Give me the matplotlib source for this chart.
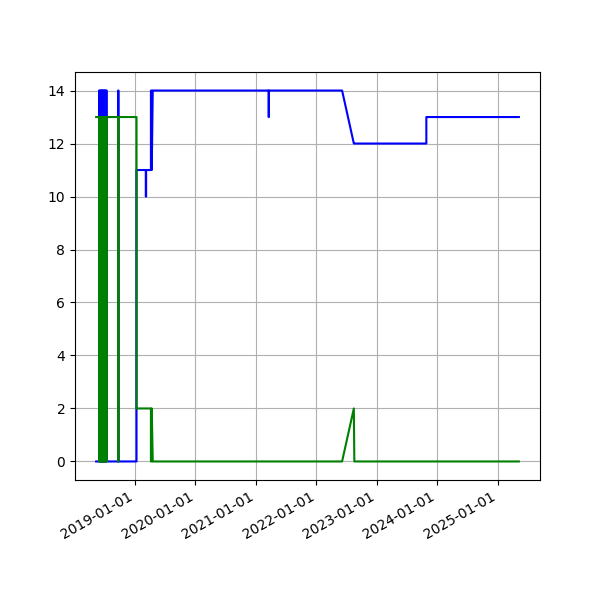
import matplotlib
matplotlib.use("Agg")
import matplotlib.pyplot as plt
import matplotlib.dates as mdates
import pandas as pd

# sample dates (repeated dates give vertical steps)
dates = [
    "2018-05-11", "2018-05-29",
    "2018-05-29", "2018-06-01", "2018-06-01", "2018-06-04", "2018-06-04", "2018-06-07",
    "2018-06-07", "2018-06-10", "2018-06-10", "2018-06-13", "2018-06-13", "2018-06-16",
    "2018-06-16", "2018-06-19", "2018-06-19", "2018-06-22", "2018-06-22", "2018-06-25",
    "2018-06-25", "2018-06-28", "2018-06-28", "2018-07-01", "2018-07-01", "2018-07-04",
    "2018-07-04", "2018-07-07", "2018-07-07", "2018-07-10", "2018-07-10", "2018-07-14",
    "2018-07-14", "2018-07-21",
    "2018-09-21", "2018-09-21", "2018-09-23", "2018-09-23",
    "2019-01-10", "2019-01-10",
    "2019-03-07", "2019-03-07", "2019-03-09", "2019-03-09",
    "2019-04-07", "2019-04-07", "2019-04-12", "2019-04-12", "2019-04-18",
    "2021-03-18", "2021-03-18", "2021-03-20", "2021-03-20",
    "2022-06-05", "2022-08-15", "2022-08-18",
    "2023-10-27", "2023-10-27",
    "2025-05-08",
]
blue_vals = [
    0, 0,
    14, 14, 0, 0, 14, 14,
    0, 0, 14, 14, 0, 0,
    14, 14, 0, 0, 14, 14,
    0, 0, 14, 14, 0, 0,
    14, 14, 0, 0, 14, 14,
    0, 0,
    0, 14, 14, 0,
    0, 11,
    11, 10, 10, 11,
    11, 14, 14, 11, 14,
    14, 13, 13, 14,
    14, 12, 12,
    12, 13,
    13,
]
green_vals = [
    13, 13,
    0, 0, 13, 13, 0, 0,
    13, 13, 0, 0, 13, 13,
    0, 0, 13, 13, 0, 0,
    13, 13, 0, 0, 13, 13,
    0, 0, 13, 13, 0, 0,
    13, 13,
    13, 0, 0, 13,
    13, 2,
    2, 2, 2, 2,
    2, 0, 0, 2, 0,
    0, 0, 0, 0,
    0, 2, 0,
    0, 0,
    0,
]

x = pd.to_datetime(dates)

fig, ax = plt.subplots(figsize=(6, 6), dpi=100)
ax.plot(x, blue_vals, color="blue")
ax.plot(x, green_vals, color="green")
ax.grid(True)
ax.xaxis.set_major_formatter(mdates.DateFormatter("%Y-%m-%d"))
fig.autofmt_xdate()
fig.savefig("out.png")
